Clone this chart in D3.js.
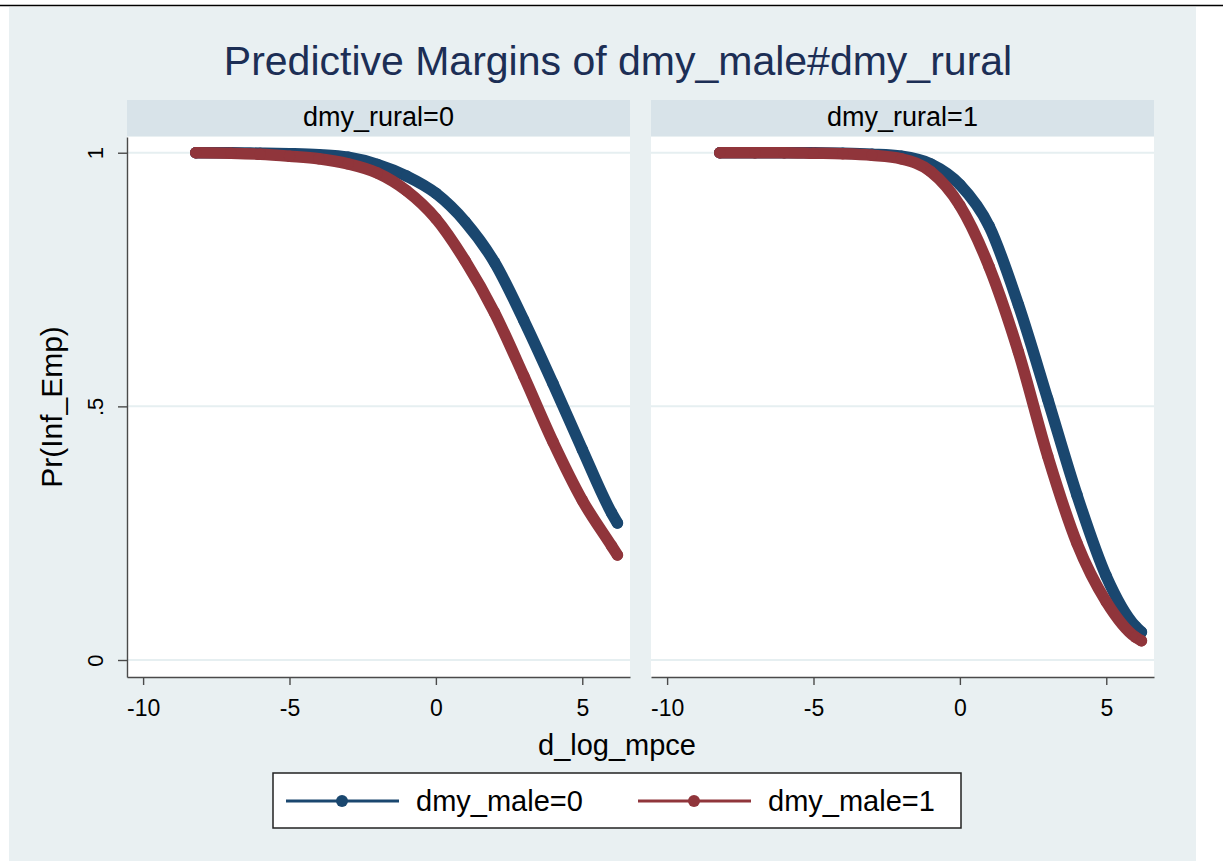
<!DOCTYPE html>
<html>
<head>
<meta charset="utf-8">
<script src="https://cdn.jsdelivr.net/npm/d3@7"></script>
<style>
  html, body { margin: 0; padding: 0; background: #fff; }
  svg { display: block; font-family: 'Liberation Sans', Arial, sans-serif; }
</style>
</head>
<body>
<svg id="chart" width="1223" height="861"></svg>
<script>
// values
const xVals = [-8.2, -7, -6, -5, -4, -3, -2, -1, 0, 1, 2, 3, 4, 5, 6, 6.2];
const urbanMale0 = [1.0, 1.0, 0.999, 0.998, 0.996, 0.991, 0.977, 0.954, 0.92, 0.864, 0.784, 0.67, 0.545, 0.415, 0.29, 0.27];
const urbanMale1 = [1.0, 0.999, 0.997, 0.993, 0.988, 0.978, 0.96, 0.925, 0.87, 0.787, 0.685, 0.56, 0.43, 0.315, 0.225, 0.207];
const ruralMale0 = [1.0, 1.0, 1.0, 1.0, 0.999, 0.997, 0.993, 0.978, 0.937, 0.855, 0.70, 0.514, 0.325, 0.165, 0.066, 0.055];
const ruralMale1 = [1.0, 1.0, 1.0, 0.999, 0.998, 0.995, 0.988, 0.963, 0.896, 0.775, 0.607, 0.402, 0.23, 0.115, 0.045, 0.038];

const panelLabels = ['dmy_rural=0', 'dmy_rural=1'];
const seriesLabels = ['dmy_male=0', 'dmy_male=1'];
const xTicks = [-10, -5, 0, 5];
const yTicks = [0, 0.5, 1];
const yTickLabels = ['0', '.5', '1'];

const colors = ['#1a476f', '#90353b'];
const panels = [
  { label: panelLabels[0], series: [urbanMale0, urbanMale1] },
  { label: panelLabels[1], series: [ruralMale0, ruralMale1] },
];

const svg = d3.select('#chart');
const pw = 503, ph = 540, plotTop = 137;
const lefts = [127, 651];

const x = d3.scaleLinear().domain([-10.55, 6.63]).range([0, pw]);
const y = d3.scaleLinear().domain([-0.0335, 1.031]).range([ph, 0]);

// page bits: rule across the top and the graph region
svg.append('line')
  .attr('x1', 0).attr('x2', 1223).attr('y1', 5.5).attr('y2', 5.5)
  .attr('stroke', '#000').attr('stroke-width', 1.5);
svg.append('rect')
  .attr('x', 9).attr('y', 7).attr('width', 1187).attr('height', 854)
  .attr('fill', '#e9f0f2');

svg.append('text')
  .attr('x', 618).attr('y', 75)
  .attr('text-anchor', 'middle')
  .attr('font-size', 41)
  .attr('fill', '#1c2e55')
  .text('Predictive Margins of dmy_male#dmy_rural');

const line = d3.line()
  .x(d => x(d.x))
  .y(d => y(d.p))
  .curve(d3.curveMonotoneX);

panels.forEach((panel, i) => {
  const g = svg.append('g').attr('transform', `translate(${lefts[i]},${plotTop})`);

  // strip header
  g.append('rect')
    .attr('x', 0).attr('y', -37).attr('width', pw).attr('height', 36)
    .attr('fill', '#d8e3e9');
  g.append('text')
    .attr('x', pw / 2).attr('y', -11)
    .attr('text-anchor', 'middle')
    .attr('font-size', 27)
    .attr('fill', '#000')
    .text(panel.label);

  g.append('rect')
    .attr('width', pw).attr('height', ph)
    .attr('fill', '#fff');

  g.selectAll('line.grid')
    .data(yTicks)
    .enter()
    .append('line')
    .attr('class', 'grid')
    .attr('x1', 0).attr('x2', pw)
    .attr('y1', d => y(d)).attr('y2', d => y(d))
    .attr('stroke', '#e6eff1')
    .attr('stroke-width', 2);

  panel.series.forEach((vals, s) => {
    const pts = xVals.map((v, k) => ({ x: v, p: vals[k] }));
    g.append('path')
      .datum(pts)
      .attr('d', line)
      .attr('fill', 'none')
      .attr('stroke', colors[s])
      .attr('stroke-width', 11.5)
      .attr('stroke-linecap', 'round')
      .attr('stroke-linejoin', 'round');
    g.selectAll(null)
      .data(pts)
      .enter()
      .append('circle')
      .attr('cx', d => x(d.x))
      .attr('cy', d => y(d.p))
      .attr('r', 5.7)
      .attr('fill', colors[s]);
  });

  // x axis (plain hyphen for negatives, like the original)
  const xa = g.append('g')
    .attr('transform', `translate(0,${ph})`)
    .call(d3.axisBottom(x).tickValues(xTicks).tickSize(8).tickSizeOuter(0)
      .tickFormat(d => String(d)));
  xa.select('.domain').attr('stroke', '#4a4a4a').attr('stroke-width', 1.4);
  xa.selectAll('.tick line').attr('stroke', '#4a4a4a').attr('stroke-width', 1.4);
  xa.selectAll('.tick text')
    .attr('y', 39).attr('dy', null)
    .attr('font-size', 23)
    .attr('font-family', null)
    .attr('fill', '#000');

  // y axis, left panel only
  if (i === 0) {
    const ya = g.append('g')
      .call(d3.axisLeft(y).tickValues(yTicks).tickSize(9).tickSizeOuter(0)
        .tickFormat((d, k) => yTickLabels[k]));
    ya.select('.domain').attr('stroke', '#4a4a4a').attr('stroke-width', 1.4);
    ya.selectAll('.tick line').attr('stroke', '#4a4a4a').attr('stroke-width', 1.4);
    ya.selectAll('.tick text')
      .attr('x', null).attr('dy', null)
      .attr('text-anchor', 'middle')
      .attr('transform', 'translate(-24,0) rotate(-90)')
      .attr('font-size', 22)
      .attr('font-family', null)
      .attr('fill', '#000');
  }
});

// axis titles
svg.append('text')
  .attr('x', 617).attr('y', 755)
  .attr('text-anchor', 'middle')
  .attr('font-size', 29)
  .text('d_log_mpce');
svg.append('text')
  .attr('transform', 'translate(62,407) rotate(-90)')
  .attr('text-anchor', 'middle')
  .attr('font-size', 30)
  .text('Pr(Inf_Emp)');

// legend
const legend = svg.append('g');
legend.append('rect')
  .attr('x', 273).attr('y', 773).attr('width', 688).attr('height', 55)
  .attr('fill', '#fff').attr('stroke', '#222').attr('stroke-width', 1.5);
const keyX = [286, 638];
seriesLabels.forEach((lab, s) => {
  legend.append('line')
    .attr('x1', keyX[s]).attr('x2', keyX[s] + 113)
    .attr('y1', 801).attr('y2', 801)
    .attr('stroke', colors[s]).attr('stroke-width', 3);
  legend.append('circle')
    .attr('cx', keyX[s] + 56).attr('cy', 801).attr('r', 6)
    .attr('fill', colors[s]);
  legend.append('text')
    .attr('x', keyX[s] + 130).attr('y', 811)
    .attr('font-size', 29)
    .text(lab);
});
</script>
</body>
</html>
